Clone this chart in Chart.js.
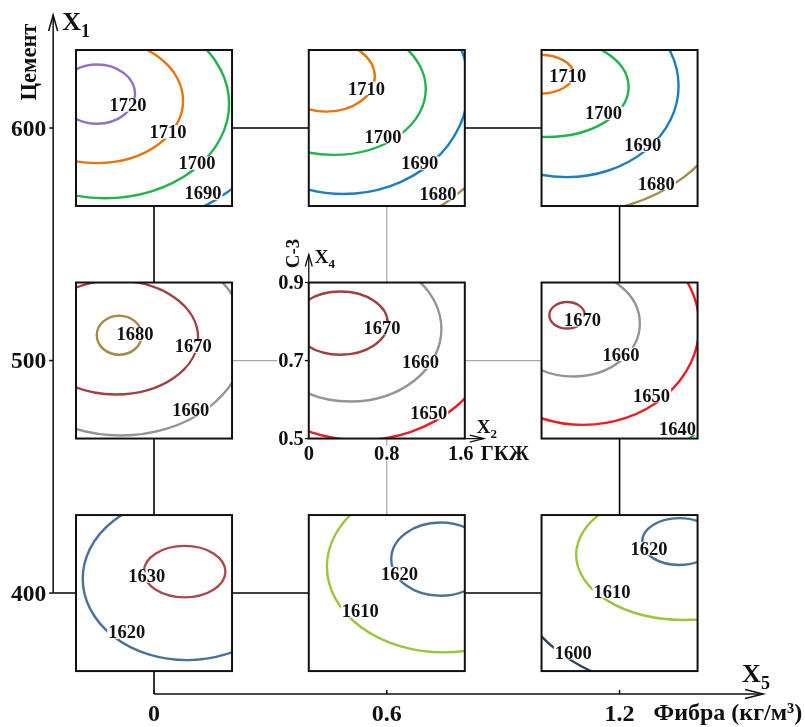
<!DOCTYPE html>
<html>
<head>
<meta charset="utf-8">
<script src="https://cdn.jsdelivr.net/npm/chart.js@4.4.1/dist/chart.umd.min.js"></script>
<style>
  body { margin: 0; background: #fff; }
  #wrap { width: 805px; height: 727px; }
</style>
</head>
<body>
<div id="wrap"><canvas id="chart" width="805" height="727"></canvas></div>
<script>
// X1 (Цемент) rows and X5 (Фибра) columns of the square grid
const cementLevels = [600, 500, 400];
const fibraLevels = [0, 0.6, 1.2];
// local axes of every square: X2 (ГКЖ) and X4 (С-3)
const gkzhTicks = [0, 0.8, 1.6];
const c3Ticks = [0.5, 0.7, 0.9];

// contour: [level, centre ГКЖ, centre С-3, half width ГКЖ, half height С-3, label ГКЖ, label С-3]
const square600_00 = [
  [1720, 0.216, 0.787, 0.390, 0.076, 0.533, 0.759],
  [1710, 0.216, 0.770, 0.882, 0.160, 0.944, 0.690],
  [1700, 0.298, 0.762, 1.272, 0.242, 1.242, 0.610],
  [1690, 0.298, 0.762, 1.778, 0.320, 1.302, 0.533]
];
const square600_06 = [
  [1710, 0.184, 0.832, 0.493, 0.090, 0.592, 0.802],
  [1700, 0.256, 0.800, 0.944, 0.169, 0.762, 0.678],
  [1690, 0.358, 0.808, 1.280, 0.277, 1.139, 0.610],
  [1680, 0.358, 0.808, 1.718, 0.378, 1.326, 0.532]
];
const square600_12 = [
  [1710, -0.021, 0.838, 0.349, 0.050, 0.270, 0.833],
  [1700, 0.051, 0.805, 0.842, 0.128, 0.635, 0.738],
  [1690, 0.256, 0.808, 1.149, 0.234, 1.038, 0.656],
  [1680, 0.256, 0.808, 1.712, 0.329, 1.176, 0.558]
];
const square500_00 = [
  [1680, 0.443, 0.765, 0.230, 0.050, 0.605, 0.768],
  [1670, 0.410, 0.759, 0.842, 0.146, 1.203, 0.737],
  [1660, 0.461, 0.756, 1.280, 0.248, 1.176, 0.574]
];
const square500_06 = [
  [1670, 0.325, 0.796, 0.485, 0.081, 0.752, 0.784],
  [1660, 0.427, 0.781, 0.933, 0.186, 1.146, 0.696],
  [1650, 0.530, 0.790, 1.387, 0.294, 1.230, 0.566]
];
const square500_12 = [
  [1670, 0.262, 0.816, 0.182, 0.034, 0.421, 0.804],
  [1660, 0.325, 0.795, 0.683, 0.136, 0.814, 0.716],
  [1650, 0.427, 0.789, 1.190, 0.254, 1.128, 0.610],
  [1640, 0.427, 0.789, 1.744, 0.369, 1.394, 0.526]
];
const square400_00 = [
  [1630, 1.114, 0.755, 0.418, 0.066, 0.726, 0.744],
  [1620, 1.138, 0.737, 1.069, 0.209, 0.520, 0.600]
];
const square400_06 = [
  [1620, 1.350, 0.787, 0.504, 0.094, 0.931, 0.750],
  [1610, 1.384, 0.768, 1.198, 0.220, 0.528, 0.654]
];
const square400_12 = [
  [1620, 1.411, 0.832, 0.379, 0.060, 1.101, 0.814],
  [1610, 1.462, 0.798, 1.107, 0.167, 0.723, 0.704],
  [1600, 1.462, 0.798, 1.824, 0.350, 0.326, 0.547]
];

const levelColors = {
  1720: '#9370c8', 1710: '#e8750f', 1700: '#20b54b', 1690: '#1d7fc0',
  1680: '#a68a47', 1670: '#a3403f', 1660: '#959595', 1650: '#ee1c24',
  1640: '#2eb24a', 1630: '#aa4a4c', 1620: '#48729a', 1610: '#9cc43e',
  1600: '#24485a'
};

const squareLines = [square600_00, square600_06, square600_12,
                     square500_00, square500_06, square500_12,
                     square400_00, square400_06, square400_12];
const squares = [];
cementLevels.forEach(function (c, i) {
  fibraLevels.forEach(function (f, j) {
    squares.push({ cement: c, fibra: f, lines: squareLines[i * 3 + j] });
  });
});

// half side of a square, in X5 and X1 units; where the main axes run
const HALF_F = 0.2011, HALF_C = 33.55;
const AXIS_F = -0.26, AXIS_C = 356.6;
const TOP_C = 648.6, END_F = 1.57;
const FONT = '"Liberation Serif", "Times New Roman", serif';

function toFibra(p, g) {
  return p.fibra - HALF_F + 2 * HALF_F * (g - gkzhTicks[0]) / (gkzhTicks[2] - gkzhTicks[0]);
}
function toCement(p, c) {
  return p.cement - HALF_C + 2 * HALF_C * (c - c3Ticks[0]) / (c3Ticks[2] - c3Ticks[0]);
}

// connecting lines between squares (drawn under them)
const gridSets = [];
cementLevels.forEach(function (c) {
  var from = c === 400 ? AXIS_F : fibraLevels[0];
  gridSets.push({
    data: [{ x: from, y: c }, { x: fibraLevels[2], y: c }],
    borderColor: c === 500 ? '#a6a6a6' : '#000',
    borderWidth: c === 500 ? 1.2 : 1.6
  });
});
fibraLevels.forEach(function (f) {
  var from = f === 0 ? AXIS_C : cementLevels[2];
  gridSets.push({
    data: [{ x: f, y: from }, { x: f, y: cementLevels[0] }],
    borderColor: f === 0.6 ? '#a6a6a6' : '#000',
    borderWidth: f === 0.6 ? 1.2 : 1.6
  });
});
gridSets.forEach(function (d) {
  d.showLine = true; d.pointRadius = 0; d.fill = false;
});

function tag(ctx, text, x, base, size, align) {
  ctx.font = 'bold ' + size + 'px ' + FONT;
  var w = ctx.measureText(text).width;
  var left = align === 'right' ? x - w : (align === 'left' ? x : x - w / 2);
  ctx.fillStyle = '#fff';
  ctx.fillRect(left - 1, base - size * 0.7, w + 2, size * 0.72);
  ctx.fillStyle = '#111';
  ctx.textAlign = 'left';
  ctx.textBaseline = 'alphabetic';
  ctx.fillText(text, left, base);
}

function subLabel(ctx, main, sub, x, base, size) {
  ctx.fillStyle = '#111';
  ctx.textAlign = 'left';
  ctx.textBaseline = 'alphabetic';
  ctx.font = 'bold ' + size + 'px ' + FONT;
  ctx.fillText(main, x, base);
  var w = ctx.measureText(main).width;
  ctx.font = 'bold ' + Math.round(size * 0.68) + 'px ' + FONT;
  ctx.fillText(sub, x + w, base + size * 0.28);
}

function rotated(ctx, text, x, y, size) {
  ctx.save();
  ctx.translate(x, y);
  ctx.rotate(-Math.PI / 2);
  ctx.font = 'bold ' + size + 'px ' + FONT;
  ctx.fillStyle = '#111';
  ctx.textAlign = 'center';
  ctx.textBaseline = 'middle';
  ctx.fillText(text, 0, 0);
  ctx.restore();
}

function arrowHead(ctx, x, y, dir, len, half) {
  ctx.beginPath();
  if (dir === 'up') {
    ctx.moveTo(x - half, y + len); ctx.lineTo(x, y); ctx.lineTo(x + half, y + len);
  } else {
    ctx.moveTo(x - len, y - half); ctx.lineTo(x, y); ctx.lineTo(x - len, y + half);
  }
  ctx.stroke();
}

const squaresPlugin = {
  id: 'squares',
  afterDatasetsDraw: function (chart) {
    var ctx = chart.ctx, xs = chart.scales.x, ys = chart.scales.y;
    var X = function (v) { return xs.getPixelForValue(v); };
    var Y = function (v) { return ys.getPixelForValue(v); };

    squares.forEach(function (p) {
      var l = X(p.fibra - HALF_F), r = X(p.fibra + HALF_F);
      var t = Y(p.cement + HALF_C), b = Y(p.cement - HALF_C);
      ctx.save();
      ctx.fillStyle = '#fff';
      ctx.fillRect(l, t, r - l, b - t);
      ctx.beginPath();
      ctx.rect(l, t, r - l, b - t);
      ctx.clip();
      p.lines.forEach(function (c) {
        var cx = X(toFibra(p, c[1])), cy = Y(toCement(p, c[2]));
        var rx = X(toFibra(p, c[1] + c[3])) - cx;
        var ry = cy - Y(toCement(p, c[2] + c[4]));
        ctx.beginPath();
        ctx.ellipse(cx, cy, rx, ry, 0, 0, Math.PI * 2);
        ctx.strokeStyle = levelColors[c[0]];
        ctx.lineWidth = 2.4;
        ctx.stroke();
      });
      ctx.restore();
      p.lines.forEach(function (c) {
        tag(ctx, String(c[0]), X(toFibra(p, c[5])), Y(toCement(p, c[6])) + 6.3, 18.5, 'center');
      });
      ctx.strokeStyle = '#111';
      ctx.lineWidth = 2;
      ctx.strokeRect(l, t, r - l, b - t);
    });

    // local axes of the middle square
    var mid = squares[4];
    var ml = X(mid.fibra - HALF_F), mt = Y(mid.cement + HALF_C);
    var mr = X(mid.fibra + HALF_F), mb = Y(mid.cement - HALF_C);
    ctx.strokeStyle = '#111';
    ctx.lineWidth = 1.3;
    ctx.beginPath();
    ctx.moveTo(ml, mt); ctx.lineTo(ml, mt - 28);
    ctx.moveTo(mr, mb); ctx.lineTo(mr + 19, mb);
    ctx.stroke();
    arrowHead(ctx, ml, mt - 28, 'up', 12, 3.5);
    arrowHead(ctx, mr + 19, mb, 'right', 14, 3.5);
    c3Ticks.forEach(function (v) {
      var y = Y(toCement(mid, v));
      ctx.beginPath(); ctx.moveTo(ml - 4, y); ctx.lineTo(ml, y); ctx.stroke();
      tag(ctx, String(v), ml - 5, y + 6.8, 20.5, 'right');
    });
    gkzhTicks.forEach(function (v, i) {
      var x = X(toFibra(mid, v));
      if (i === 2) x -= 4;
      tag(ctx, String(v), x, mb + 21.5, 20.5, 'center');
    });
    tag(ctx, 'ГКЖ', mr + 16, mb + 21.5, 20.5, 'left');
    rotated(ctx, 'С-3', ml - 15, mt - 29, 19);
    subLabel(ctx, 'X', '4', ml + 6, mt - 20, 19);
    subLabel(ctx, 'X', '2', mr + 12, mb - 6, 19);

    // main axes
    var ax = X(AXIS_F), ay = Y(AXIS_C);
    ctx.strokeStyle = '#111';
    ctx.lineWidth = 1.5;
    ctx.beginPath();
    ctx.moveTo(ax, Y(cementLevels[2])); ctx.lineTo(ax, Y(TOP_C));
    ctx.moveTo(X(fibraLevels[0]), ay); ctx.lineTo(X(END_F), ay);
    ctx.stroke();
    arrowHead(ctx, ax, Y(TOP_C), 'up', 16, 4.5);
    arrowHead(ctx, X(END_F), ay, 'right', 18, 4.5);
    cementLevels.forEach(function (c) {
      var y = Y(c);
      ctx.beginPath(); ctx.moveTo(ax - 4, y); ctx.lineTo(ax, y); ctx.stroke();
      tag(ctx, String(c), ax - 7, y + 7.8, 23.5, 'right');
    });
    fibraLevels.forEach(function (f) {
      var x = X(f);
      ctx.beginPath(); ctx.moveTo(x, ay); ctx.lineTo(x, ay - 4); ctx.stroke();
      tag(ctx, String(f), x, ay + 27, 24, 'center');
    });
    tag(ctx, 'Фибра (кг/м³)', X(fibraLevels[2]) + 34, ay + 26, 24, 'left');
    rotated(ctx, 'Цемент', ax - 23, Y(TOP_C) + 47, 22.5);
    subLabel(ctx, 'X', '1', ax + 9, Y(TOP_C) + 15, 26);
    subLabel(ctx, 'X', '5', X(END_F) - 21, ay - 12, 26);
  }
};

new Chart(document.getElementById('chart'), {
  type: 'scatter',
  data: { datasets: gridSets },
  options: {
    responsive: false,
    animation: false,
    events: [],
    layout: { padding: 0 },
    plugins: { legend: { display: false }, tooltip: { enabled: false } },
    scales: {
      x: { type: 'linear', display: false, min: -0.397, max: 1.678 },
      y: { type: 'linear', display: false, min: 342.4, max: 655.05 }
    }
  },
  plugins: [squaresPlugin]
});
</script>
</body>
</html>
